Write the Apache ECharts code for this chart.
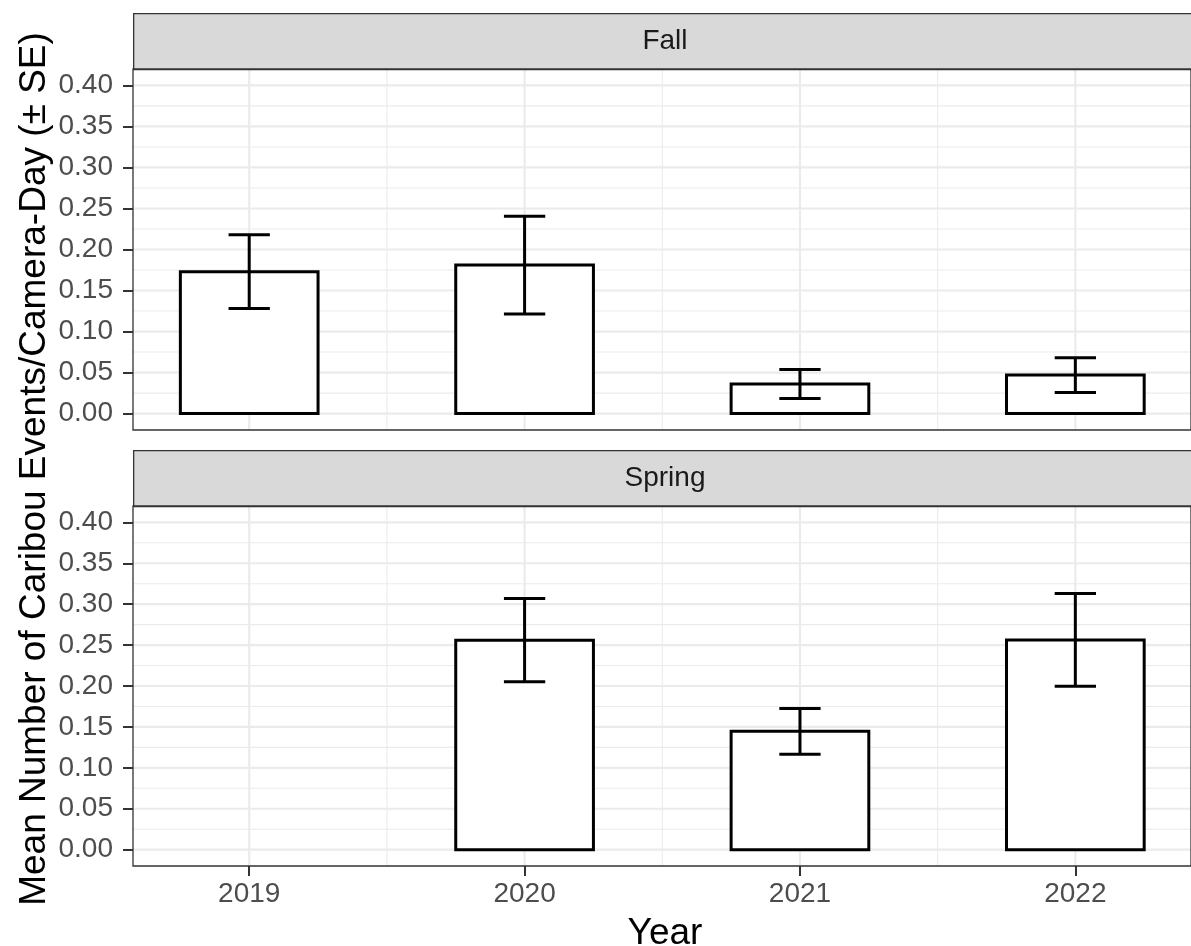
<!DOCTYPE html>
<html>
<head>
<meta charset="utf-8">
<script src="https://cdn.jsdelivr.net/npm/echarts@6/dist/echarts.min.js"></script>
<style>html,body{margin:0;padding:0;background:#fff}#c{width:1191px;height:946px}</style>
</head>
<body>
<div id="c"></div>
<script>
// ---- data ----
const years = [2019, 2020, 2021, 2022];
const fallMean = [0.173, 0.181, 0.036, 0.047];
const fallSE = [0.045, 0.0595, 0.0177, 0.0212];
const springMean = [null, 0.256, 0.1446, 0.2563];
const springSE = [null, 0.0508, 0.028, 0.0567];
const yTicks = [0, 0.05, 0.10, 0.15, 0.20, 0.25, 0.30, 0.35, 0.40];
const yMinor = [0.025, 0.075, 0.125, 0.175, 0.225, 0.275, 0.325, 0.375];
const xMinor = [2019.5, 2020.5, 2021.5];
const panelNames = ['Fall', 'Spring'];

// ---- layout/style ----
const FONT = '"Liberation Sans", Arial, sans-serif';
const X_MIN = 2018.578, X_MAX = 2022.42;
const Y_MIN = -0.02, Y_MAX = 0.42;
const BAR_HALF = 0.25, CAP_HALF = 0.075;
const PANEL_LEFT = 133, PANEL_W = 1064;
const panels = [
  {stripTop: 13, top: 69, height: 361},
  {stripTop: 450, top: 506, height: 360}
];

const chart = echarts.init(document.getElementById('c'), null, {renderer: 'canvas'});

function gridData() {
  const d = [];
  years.forEach(v => d.push([v, 0, 0]));
  xMinor.forEach(v => d.push([v, 0, 1]));
  yTicks.forEach(v => d.push([X_MIN, v, 2]));
  yMinor.forEach(v => d.push([X_MIN, v, 3]));
  return d;
}
function gridRender(params, api) {
  const cs = params.coordSys;
  const kind = api.value(2);
  const p = api.coord([api.value(0), api.value(1)]);
  const major = (kind === 0 || kind === 2);
  const lw = major ? 2.2 : 1.1;
  let shape;
  if (kind < 2) shape = {x1: p[0], y1: cs.y, x2: p[0], y2: cs.y + cs.height};
  else shape = {x1: cs.x, y1: p[1], x2: cs.x + cs.width, y2: p[1]};
  return {type: 'line', shape: shape, style: {stroke: '#EBEBEB', lineWidth: lw}, silent: true};
}
function barRender(params, api) {
  const x = api.value(0), v = api.value(1);
  if (v == null || isNaN(v)) return null;
  const a = api.coord([x - BAR_HALF, v]);
  const b = api.coord([x + BAR_HALF, 0]);
  return {type: 'rect', shape: {x: a[0], y: a[1], width: b[0] - a[0], height: b[1] - a[1]},
    style: {fill: '#FFFFFF', stroke: '#000000', lineWidth: 3}};
}
function errRender(params, api) {
  const x = api.value(0), lo = api.value(1), hi = api.value(2);
  if (lo == null || isNaN(lo)) return null;
  const t = api.coord([x, hi]), b = api.coord([x, lo]);
  const tl = api.coord([x - CAP_HALF, hi]), tr = api.coord([x + CAP_HALF, hi]);
  const bl = api.coord([x - CAP_HALF, lo]), br = api.coord([x + CAP_HALF, lo]);
  const st = {stroke: '#000000', lineWidth: 3};
  return {type: 'group', children: [
    {type: 'line', shape: {x1: t[0], y1: t[1], x2: b[0], y2: b[1]}, style: st},
    {type: 'line', shape: {x1: tl[0], y1: tl[1], x2: tr[0], y2: tr[1]}, style: st},
    {type: 'line', shape: {x1: bl[0], y1: bl[1], x2: br[0], y2: br[1]}, style: st}
  ]};
}

const means = [fallMean, springMean];
const ses = [fallSE, springSE];

const grids = [], xAxes = [], yAxes = [], series = [], graphics = [];
panels.forEach((p, i) => {
  grids.push({left: PANEL_LEFT, top: p.top, width: PANEL_W, height: p.height,
    show: true, borderColor: '#333333', borderWidth: 1.3, backgroundColor: 'transparent', z: 10});
  const isBottom = i === panels.length - 1;
  xAxes.push({type: 'value', gridIndex: i, min: X_MIN, max: X_MAX, position: 'bottom',
    axisLine: {show: false, onZero: false}, splitLine: {show: false},
    axisTick: {show: isBottom, customValues: years, length: 10, lineStyle: {color: '#333333', width: 2}},
    axisLabel: {show: isBottom, customValues: years, formatter: v => String(v),
      color: '#4D4D4D', fontSize: 28, fontFamily: FONT, margin: 14}});
  yAxes.push({type: 'value', gridIndex: i, min: Y_MIN, max: Y_MAX, position: 'left',
    axisLine: {show: false, onZero: false}, splitLine: {show: false},
    axisTick: {show: true, customValues: yTicks, length: 10, lineStyle: {color: '#333333', width: 2}},
    axisLabel: {show: true, customValues: yTicks, formatter: v => v.toFixed(2),
      color: '#4D4D4D', fontSize: 28, fontFamily: FONT, margin: 20}});
  series.push({type: 'custom', xAxisIndex: i, yAxisIndex: i, z: 1, silent: true,
    renderItem: gridRender, data: gridData(), clip: true});
  series.push({type: 'custom', xAxisIndex: i, yAxisIndex: i, z: 3,
    renderItem: barRender, data: years.map((y, k) => [y, means[i][k]])});
  series.push({type: 'custom', xAxisIndex: i, yAxisIndex: i, z: 4,
    renderItem: errRender,
    data: years.map((y, k) => means[i][k] == null ? [y, null, null]
      : [y, means[i][k] - ses[i][k], means[i][k] + ses[i][k]])});
  graphics.push({type: 'rect', left: PANEL_LEFT, top: p.stripTop,
    shape: {width: PANEL_W, height: p.top - p.stripTop},
    style: {fill: '#D9D9D9', stroke: '#333333', lineWidth: 1.3}, z: 5});
  graphics.push({type: 'text', x: PANEL_LEFT + PANEL_W / 2, y: (p.stripTop + p.top) / 2,
    style: {text: panelNames[i], fill: '#1A1A1A', fontSize: 28, fontFamily: FONT,
      textAlign: 'center', textVerticalAlign: 'middle'}, z: 6});
});
graphics.push({type: 'text', x: 35, y: 469, rotation: Math.PI / 2,
  style: {text: 'Mean Number of Caribou Events/Camera-Day (\u00B1 SE)', fill: '#000000',
    fontSize: 37, fontFamily: FONT, textAlign: 'center', textVerticalAlign: 'middle'}, z: 6});
graphics.push({type: 'text', x: PANEL_LEFT + PANEL_W / 2, y: 934,
  style: {text: 'Year', fill: '#000000', fontSize: 37, fontFamily: FONT,
    textAlign: 'center', textVerticalAlign: 'middle'}, z: 6});

chart.setOption({
  animation: false,
  backgroundColor: '#FFFFFF',
  grid: grids, xAxis: xAxes, yAxis: yAxes, series: series, graphic: graphics
});
</script>
</body>
</html>
